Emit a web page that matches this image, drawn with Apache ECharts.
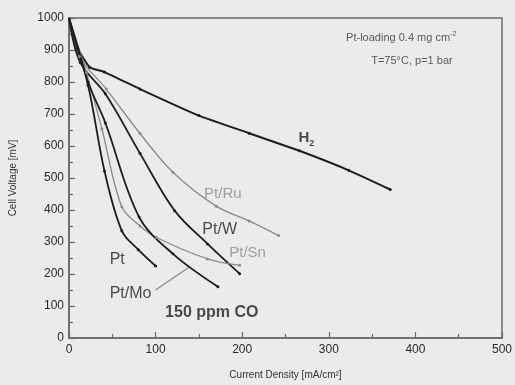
<!DOCTYPE html>
<html>
<head>
<meta charset="utf-8">
<script src="https://cdn.jsdelivr.net/npm/echarts@6/dist/echarts.min.js"></script>
<style>
  html, body { margin: 0; padding: 0; background: #ebebeb; }
  #chart { width: 515px; height: 385px; }
</style>
</head>
<body>
<div id="chart"></div>
<script>
// polarisation curves, [current density mA/cm2, cell voltage mV]
const h2 = [[0, 1000], [10, 905], [24, 846], [41, 831], [82, 778], [150, 695], [208, 640], [266, 585], [323, 524], [371, 464]];
const ptRu = [[0, 1000], [12, 880], [43, 778], [82, 639], [120, 518], [170, 412], [208, 366], [242, 320]];
const ptW = [[0, 1000], [13, 861], [42, 763], [82, 577], [122, 398], [160, 294], [197, 201]];
const ptSn = [[0, 1000], [20, 830], [38, 653], [61, 410], [82, 350], [101, 314], [160, 247], [197, 227]];
const ptMo = [[0, 1000], [22, 800], [42, 672], [81, 378], [120, 263], [172, 160]];
const pt = [[0, 1000], [22, 790], [41, 522], [61, 335], [80, 276], [100, 225]];

// leader from the "Pt/Mo" label to its curve
const ptMoLeader = [[100, 150], [139, 222]];

// text annotations, [x, y, text, style]
const notes = [
  [265, 624, "{b|H}{s|2}", "dark"],
  [156, 450, "Pt/Ru", "grey"],
  [154, 339, "Pt/W", "dark"],
  [185, 265, "Pt/Sn", "grey"],
  [47, 246, "Pt", "dark"],
  [47, 138, "Pt/Mo", "dark"],
  [111, 79, "150 ppm CO", "bold"],
  [320, 939, "Pt-loading 0.4 mg cm{sup|-2}", "small"],
  [349, 865, "T=75°C, p=1 bar", "small"]
];

const xTicks = [0, 100, 200, 300, 400, 500];
const yTicks = [0, 100, 200, 300, 400, 500, 600, 700, 800, 900, 1000];

const chart = echarts.init(document.getElementById("chart"), null, { renderer: "canvas" });

const dark = "#1e1e1e";
const grey = "#8a8a8a";
const font = "Liberation Sans, Arial, sans-serif";

function curve(name, data, color, width, smooth) {
  return {
    name,
    type: "line",
    data,
    smooth,
    symbol: "circle",
    symbolSize: (v, p) => (p.dataIndex === 0 ? 0 : 3),
    lineStyle: { color, width },
    itemStyle: { color },
    z: 3
  };
}

const noteStyles = {
  dark: { color: dark, fontSize: 16 },
  grey: { color: grey, fontSize: 15 },
  bold: { color: dark, fontSize: 16, fontWeight: "bold" },
  small: { color: "#333", fontSize: 11 }
};

const axisCommon = {
  type: "value",
  interval: 100,
  nameLocation: "middle",
  nameTextStyle: { color: "#333", fontSize: 10, fontFamily: font },
  axisLine: { lineStyle: { color: "#6a6a6a", width: 1.5 } },
  axisTick: { inside: true, length: 6, lineStyle: { color: "#6a6a6a", width: 1.2 } },
  minorTick: { show: true, splitNumber: 2, length: 4, lineStyle: { color: "#6a6a6a", width: 1.2 } },
  splitLine: { show: false }
};

chart.setOption({
  backgroundColor: "#ebebeb",
  animation: false,
  textStyle: { fontFamily: font },
  grid: {
    left: 69, top: 18, width: 435, height: 324,
    show: true, borderColor: "#6a6a6a", borderWidth: 1.5, backgroundColor: "transparent"
  },
  xAxis: {
    ...axisCommon,
    min: xTicks[0], max: xTicks[xTicks.length - 1],
    name: "Current Density [mA/cm²]",
    nameGap: 32,
    axisLabel: { color: "#2a2a2a", fontSize: 12, margin: 6, fontFamily: font, formatter: v => String(v) }
  },
  yAxis: {
    ...axisCommon,
    min: yTicks[0], max: yTicks[yTicks.length - 1],
    name: "Cell Voltage [mV]",
    nameGap: 51,
    axisLabel: { color: "#2a2a2a", fontSize: 12, margin: 5, fontFamily: font, formatter: v => String(v) }
  },
  series: [
    curve("H2", h2, dark, 2, 0.15),
    curve("Pt/Ru", ptRu, grey, 1.3, 0.35),
    curve("Pt/W", ptW, dark, 1.8, 0.35),
    curve("Pt/Sn", ptSn, grey, 1.3, 0.35),
    curve("Pt/Mo", ptMo, dark, 1.8, 0.35),
    curve("Pt", pt, dark, 1.8, 0.35),
    {
      type: "line",
      data: ptMoLeader,
      symbol: "none",
      lineStyle: { color: grey, width: 1.2 },
      z: 2
    },
    {
      type: "scatter",
      symbolSize: 0,
      z: 5,
      data: notes.map(n => ({
        value: [n[0], n[1]],
        label: {
          show: true,
          position: "right",
          distance: 0,
          formatter: n[2],
          fontFamily: font,
          ...noteStyles[n[3]],
          rich: {
            b: { fontSize: 15, fontWeight: "bold", color: dark, fontFamily: font },
            s: { fontSize: 9, fontWeight: "bold", color: dark, fontFamily: font, padding: [10, 0, 0, 0] },
            sup: { fontSize: 7, color: "#333", fontFamily: font, padding: [0, 0, 6, 0] }
          }
        }
      }))
    }
  ]
});
</script>
</body>
</html>
